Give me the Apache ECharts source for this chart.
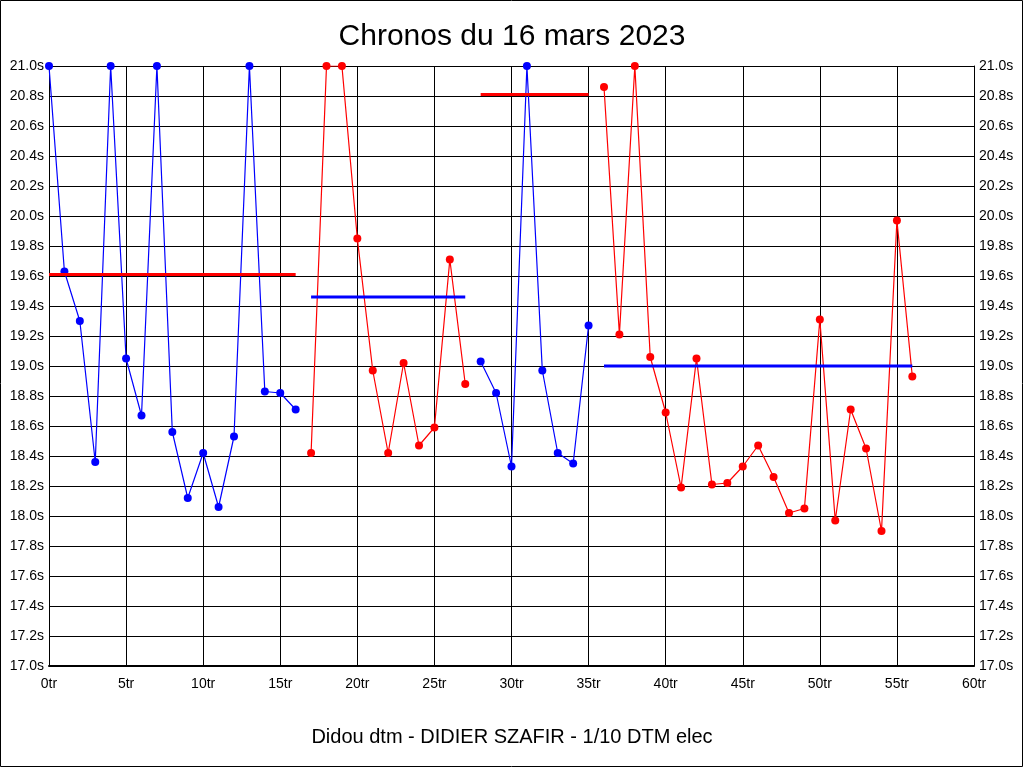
<!DOCTYPE html>
<html>
<head>
<meta charset="utf-8">
<script src="https://cdn.jsdelivr.net/npm/echarts@6/dist/echarts.min.js"></script>
<style>
html,body{margin:0;padding:0;background:#fff;}
#chart{width:1024px;height:768px;}
</style>
</head>
<body>
<div id="chart"></div>
<script>
// Lap numbers (tr) and lap times (s), per run segment
const laps1 = [0,1,2,3,4,5,6,7,8,9,10,11,12,13,14,15,16];
const times1 = [21.0,19.63,19.30,18.36,21.0,19.05,18.67,21.0,18.56,18.12,18.42,18.06,18.53,21.0,18.83,18.82,18.71];
const laps2 = [17,18,19,20,21,22,23,24,25,26,27];
const times2 = [18.42,21.0,21.0,19.85,18.97,18.42,19.02,18.47,18.59,19.71,18.88];
const laps3 = [28,29,30,31,32,33,34,35];
const times3 = [19.03,18.82,18.33,21.0,18.97,18.42,18.35,19.27];
const laps4 = [36,37,38,39,40,41,42,43,44,45,46,47,48,49,50,51,52,53,54,55,56];
const times4 = [20.86,19.21,21.0,19.06,18.69,18.19,19.05,18.21,18.22,18.33,18.47,18.26,18.02,18.05,19.31,17.97,18.71,18.45,17.90,19.97,18.93];
// Mean lines: start lap, end lap, value
const meanStart = [0,17,28,36];
const meanEnd = [16,27,35,56];
const meanValues = [19.61,19.46,20.81,19.00];
const segColors = ['#0000ff','#ff0000','#0000ff','#ff0000'];
const meanColors = ['#ff0000','#0000ff','#ff0000','#0000ff'];
const xTicks = {min:0,max:60,interval:5};
const yTicks = {min:17.0,max:21.0,interval:0.2};

const segLaps = [laps1,laps2,laps3,laps4];
const segTimes = [times1,times2,times3,times4];

const series = [];
segLaps.forEach((laps,i)=>{
  series.push({
    type:'line',
    data: laps.map((x,j)=>[x,segTimes[i][j]]),
    symbol:'circle',
    symbolSize:8,
    showSymbol:true,
    lineStyle:{color:segColors[i],width:1.2},
    itemStyle:{color:segColors[i]},
    z:2,
    animation:false
  });
});
meanValues.forEach((v,i)=>{
  series.push({
    type:'line',
    data:[[meanStart[i],v],[meanEnd[i],v]],
    symbol:'none',
    lineStyle:{color:meanColors[i],width:3},
    z:3,
    animation:false
  });
});

const font = 'Liberation Sans, Arial, sans-serif';
const yAxisBase = {
  type:'value',
  min:yTicks.min,max:yTicks.max,interval:yTicks.interval,
  axisLabel:{formatter:v=>v.toFixed(1)+'s',color:'#000',fontSize:14,fontFamily:font},
  axisTick:{show:false},
  axisLine:{show:true,lineStyle:{color:'#000',width:1}}
};
const chart = echarts.init(document.getElementById('chart'),null,{renderer:'canvas'});
chart.setOption({
  animation:false,
  backgroundColor:'#fff',
  title:[
    {text:'Chronos du 16 mars 2023',left:'center',top:17,
     textStyle:{fontSize:30,fontWeight:'normal',color:'#000',fontFamily:font}},
    {text:'Didou dtm - DIDIER SZAFIR - 1/10 DTM elec',left:'center',top:722,
     textStyle:{fontSize:20,fontWeight:'normal',color:'#000',fontFamily:font}}
  ],
  grid:{left:49,right:50,top:66,bottom:102,containLabel:false},
  xAxis:{
    type:'value',min:xTicks.min,max:xTicks.max,interval:xTicks.interval,
    axisLabel:{formatter:v=>v+'tr',color:'#000',fontSize:14,fontFamily:'Liberation Sans Narrow, Arial Narrow, sans-serif',margin:11},
    axisTick:{show:false},
    axisLine:{show:true,onZero:false,lineStyle:{color:'#000',width:2}},
    splitLine:{show:true,lineStyle:{color:'#000',width:1}}
  },
  yAxis:[
    Object.assign({},yAxisBase,{position:'left',splitLine:{show:true,lineStyle:{color:'#000',width:1}},axisLabel:Object.assign({},yAxisBase.axisLabel,{margin:5})}),
    Object.assign({},yAxisBase,{position:'right',splitLine:{show:false},axisLabel:Object.assign({},yAxisBase.axisLabel,{margin:5})})
  ],
  graphic:[{type:'rect',shape:{x:0.5,y:0.5,width:1022,height:766},style:{fill:'none',stroke:'#000',lineWidth:1},z:100}],
  series:series
});
</script>
</body>
</html>
